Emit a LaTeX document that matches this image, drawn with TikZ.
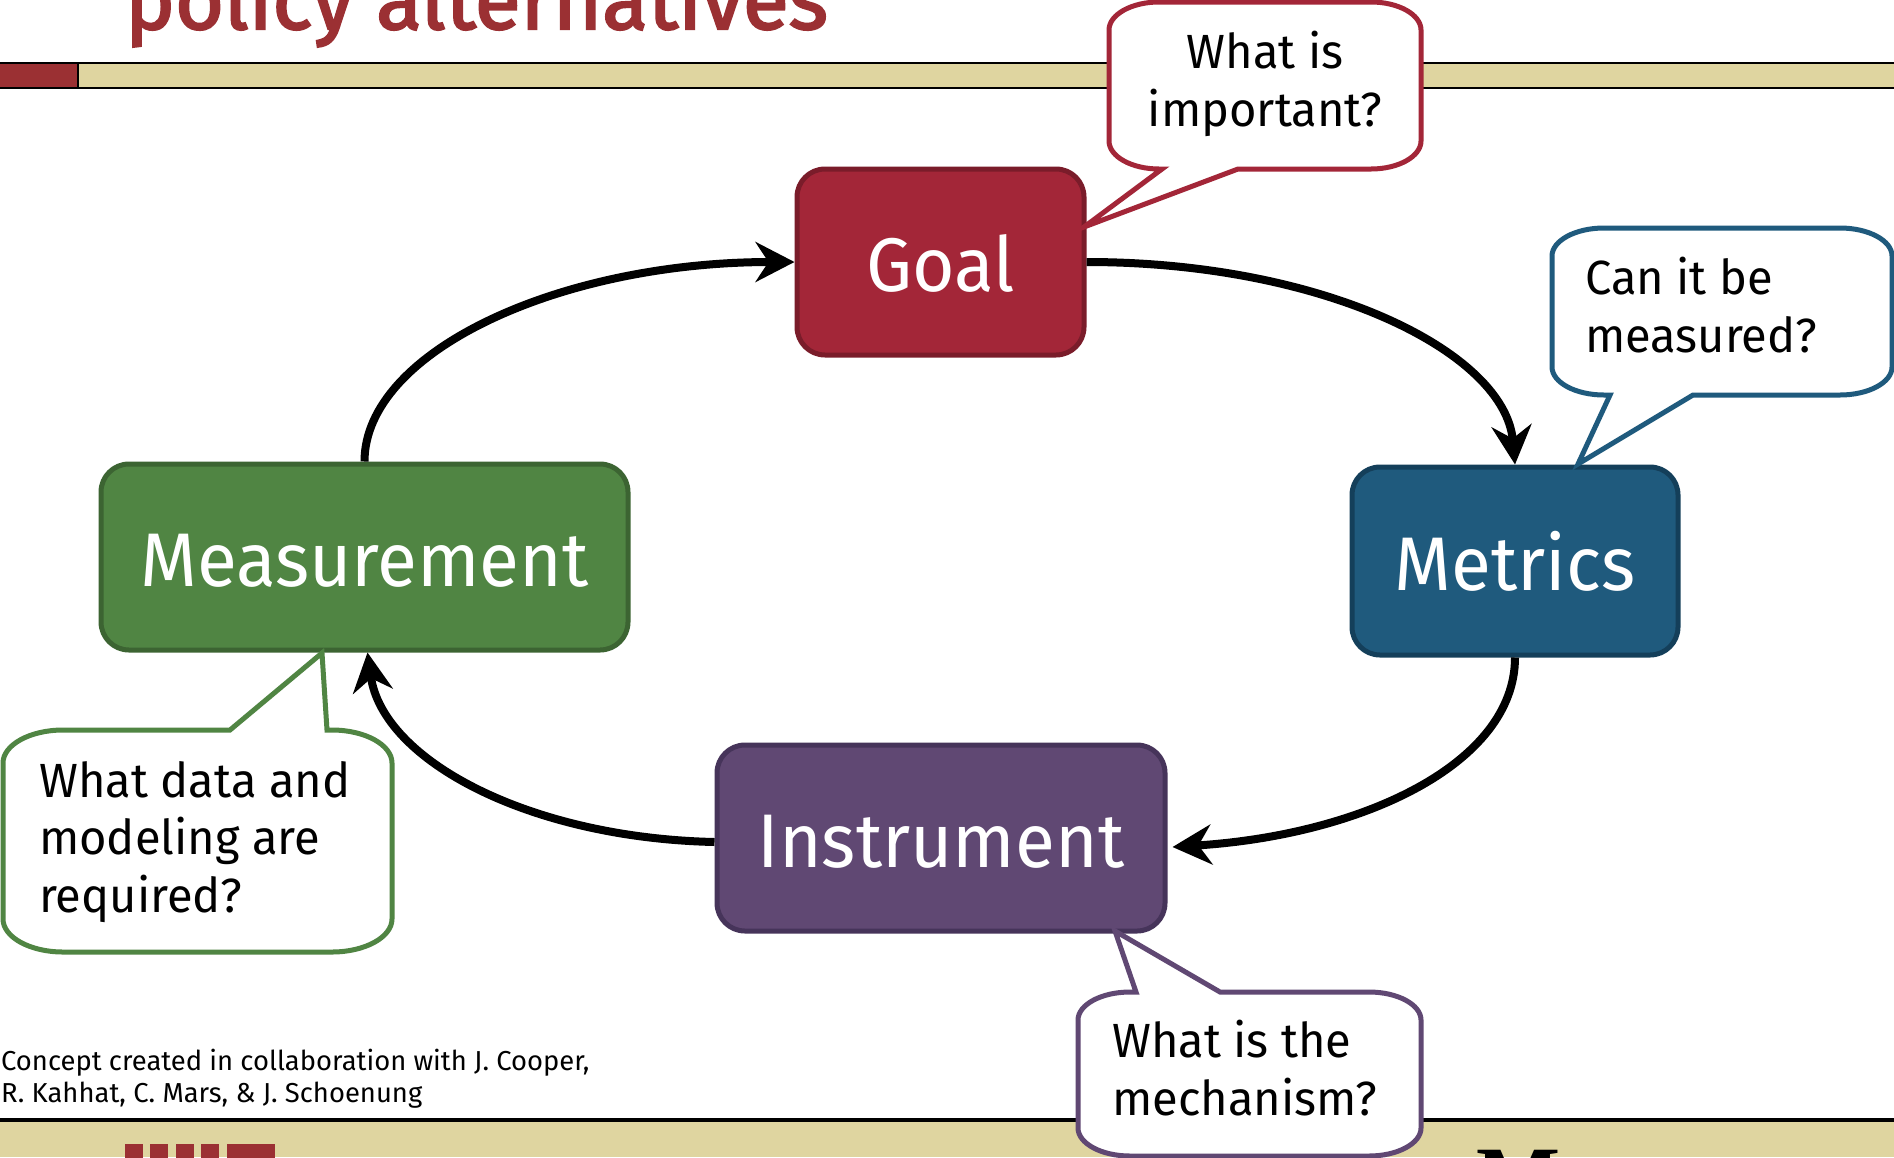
\documentclass[tikz,border=0pt]{standalone}
\usepackage{fontspec}
\setmainfont{Fira Sans}
\newfontfamily\stagefont[FakeStretch=0.96]{Fira Sans}
\newfontfamily\bubblefont[FakeStretch=0.98]{Fira Sans}
\newfontfamily\titlefont[FakeBold=2.5]{Fira Sans}
\newfontfamily\logofont{Liberation Serif}
\usetikzlibrary{arrows.meta}
\definecolor{barsand}{HTML}{DFD5A0}
\definecolor{brick}{HTML}{9B3033}
\definecolor{goalfill}{HTML}{A32638}
\definecolor{goaledge}{HTML}{7A1C2A}
\definecolor{metricfill}{HTML}{1F5A7D}
\definecolor{metricedge}{HTML}{143F5A}
\definecolor{measfill}{HTML}{508543}
\definecolor{measedge}{HTML}{3C6432}
\definecolor{instfill}{HTML}{604873}
\definecolor{instedge}{HTML}{46345A}
\tikzset{
  stagebox/.style={rounded corners=28pt,line width=5pt,text=white,inner sep=0pt,
    font=\stagefont\fontsize{76}{76}\selectfont,text height=58pt,text depth=0pt,anchor=center},
  loop arrow/.style={line width=8pt,-{Stealth[length=39pt,width=40pt,inset=13pt]}},
  bubble/.style={line width=5pt,fill=white,line join=miter},
  bubble text/.style={font=\bubblefont\fontsize{48}{57.5}\selectfont,inner sep=0pt,align=left,anchor=north west},
}
\newcommand{\bubbleshape}[9]{%
  \draw[bubble,draw=#1] (#2,#3+#9) .. controls (#2,#3+0.45*#9) and (#2+0.45*#8,#3) .. (#2+#8,#3) #6
    -- (#4-#8,#3) .. controls (#4-0.45*#8,#3) and (#4,#3+0.45*#9) .. (#4,#3+#9)
    -- (#4,#5-#9) .. controls (#4,#5-0.45*#9) and (#4-0.45*#8,#5) .. (#4-#8,#5) #7
    -- (#2+#8,#5) .. controls (#2+0.45*#8,#5) and (#2,#5-0.45*#9) .. (#2,#5-#9) -- cycle;}
\begin{document}
\begin{tikzpicture}[x=1pt,y=-1pt]
\useasboundingbox (0,0) rectangle (1894,1157);
\clip (0,0) rectangle (1894,1157);
\fill[white] (0,0) rectangle (1894,1157);
% title
\node[anchor=base west,inner sep=0pt,text=brick,font=\titlefont\fontsize{84}{84}\selectfont] (title) at (125,29) {policy alternatives};
% top bar
\draw[fill=barsand,line width=2.5pt] (78,63) rectangle (1900,88);
\draw[fill=brick,line width=2.5pt] (-5,63) rectangle (78,88);
% footer
\fill[barsand] (0,1120) rectangle (1894,1157);
\draw[line width=4pt] (0,1120) -- (1894,1120);
\foreach \xl/\xr in {125/143,150/168,176/194,201/219,227/275}
  \fill[brick] (\xl,1144) rectangle (\xr,1160);
\node[anchor=base west,inner sep=0pt,font=\logofont\bfseries\fontsize{89}{89}\selectfont] (logo) at (1476,1208) {M};
% stages
\node[stagebox,draw=goaledge,fill=goalfill,minimum width=287pt,minimum height=186pt] (goal) at (940.5,262) {Goal};
\node[stagebox,draw=metricedge,fill=metricfill,minimum width=326pt,minimum height=188pt] (metrics) at (1515,561) {Metrics};
\node[stagebox,draw=measedge,fill=measfill,minimum width=527pt,minimum height=186pt] (measurement) at (364.5,557) {Measurement};
\node[stagebox,draw=instedge,fill=instfill,minimum width=448pt,minimum height=186pt] (instrument) at (941,838) {Instrument};
% connectors
\draw[loop arrow] (goal.east) .. controls +(238,0) and +(-10,-112) .. (metrics.north);
\draw[loop arrow] (metrics.south) .. controls +(0,106) and +(190,-12) .. ([xshift=5pt,yshift=-9pt]instrument.east);
\draw[loop arrow] ([yshift=-4pt]instrument.west) .. controls +(-185,-4) and +(15,108) .. ([xshift=3pt]measurement.south);
\draw[loop arrow] (measurement.north) .. controls +(0,-110) and +(-235,0) .. (goal.west);
% callouts
\bubbleshape{goalfill}{1109}{2}{1421}{169}{}{-- (1238,169) -- (1084,227) -- (1162,169)}{50}{28}
\node[bubble text,align=center,anchor=north] (q1) at (1265,31) {What is\\important?};
\bubbleshape{metricfill}{1552}{228}{1892}{395}{}{-- (1693,395) -- (1578,464) -- (1610,395)}{52}{28}
\node[bubble text] (q2) at (1585,257) {Can it be\\measured?};
\bubbleshape{measfill}{3}{730}{392}{952}{-- (230,730) -- (322,653) -- (327,730)}{}{60}{33}
\node[bubble text] (q3) at (39,761) {What data and\\modeling are\\required?};
\bubbleshape{instfill}{1078}{992}{1421}{1156}{-- (1136,992) -- (1115,931) -- (1220,992)}{}{52}{28}
\node[bubble text] (q4) at (1112,1020) {What is the\\mechanism?};
% credit
\node[anchor=north west,inner sep=0pt,align=left,font=\fontsize{27.4}{32}\selectfont] (credit) at (1,1049) {Concept created in collaboration with J. Cooper,\\R. Kahhat, C. Mars, \& J. Schoenung};
\end{tikzpicture}
\end{document}
